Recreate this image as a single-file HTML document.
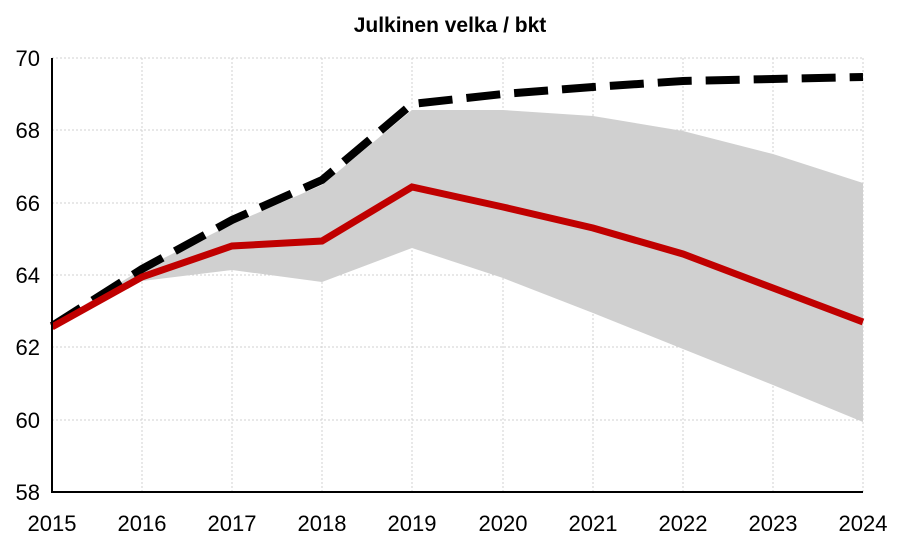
<!DOCTYPE html>
<html><head><meta charset="utf-8"><style>body{margin:0;background:#fff}svg{display:block}</style></head><body>
<svg width="900" height="542" xmlns="http://www.w3.org/2000/svg" font-family="Liberation Sans, sans-serif">
<rect width="900" height="542" fill="#fff"/>
<text x="450" y="32" text-anchor="middle" font-size="21" font-weight="bold">Julkinen velka / bkt</text>
<g stroke="#d0d0d0" stroke-width="1" stroke-dasharray="2,2">
<line x1="52" y1="58" x2="863" y2="58"/><line x1="52" y1="130" x2="863" y2="130"/><line x1="52" y1="203" x2="863" y2="203"/><line x1="52" y1="275" x2="863" y2="275"/><line x1="52" y1="347" x2="863" y2="347"/><line x1="52" y1="420" x2="863" y2="420"/>
<line x1="142" y1="58" x2="142" y2="492"/><line x1="232" y1="58" x2="232" y2="492"/><line x1="322" y1="58" x2="322" y2="492"/><line x1="412" y1="58" x2="412" y2="492"/><line x1="503" y1="58" x2="503" y2="492"/><line x1="593" y1="58" x2="593" y2="492"/><line x1="683" y1="58" x2="683" y2="492"/><line x1="773" y1="58" x2="773" y2="492"/><line x1="863" y1="58" x2="863" y2="492"/>
</g>
<polygon fill="#d0d0d0" points="52,325 142,269 232,224 322,185 412,110 503,110 593,116 683,131 773,154 863,183 863,422 773,385 683,349 593,313 503,278 412,248 322,282 232,270 142,281 52,329"/>
<polyline fill="none" stroke="#000" stroke-width="8" stroke-dasharray="34,14" points="52,326 142,269 232,220 322,180 412,104 503,94 593,87 683,81 773,79 863,77"/>
<polyline fill="none" stroke="#c00000" stroke-width="7" points="52,327 142,277 232,246 322,241 412,187 503,207 593,228 683,254 773,288 863,322"/>
<line x1="52" y1="58" x2="52" y2="493" stroke="#000" stroke-width="2"/>
<line x1="51" y1="492" x2="863" y2="492" stroke="#000" stroke-width="2"/>
<g font-size="22" text-anchor="end">
<text x="40" y="66">70</text><text x="40" y="138">68</text><text x="40" y="211">66</text><text x="40" y="283">64</text><text x="40" y="355">62</text><text x="40" y="428">60</text><text x="40" y="500">58</text>
</g>
<g font-size="22" text-anchor="middle">
<text x="52" y="531">2015</text><text x="142" y="531">2016</text><text x="232" y="531">2017</text><text x="322" y="531">2018</text><text x="412" y="531">2019</text><text x="503" y="531">2020</text><text x="593" y="531">2021</text><text x="683" y="531">2022</text><text x="773" y="531">2023</text><text x="863" y="531">2024</text>
</g>
</svg>
</body></html>
